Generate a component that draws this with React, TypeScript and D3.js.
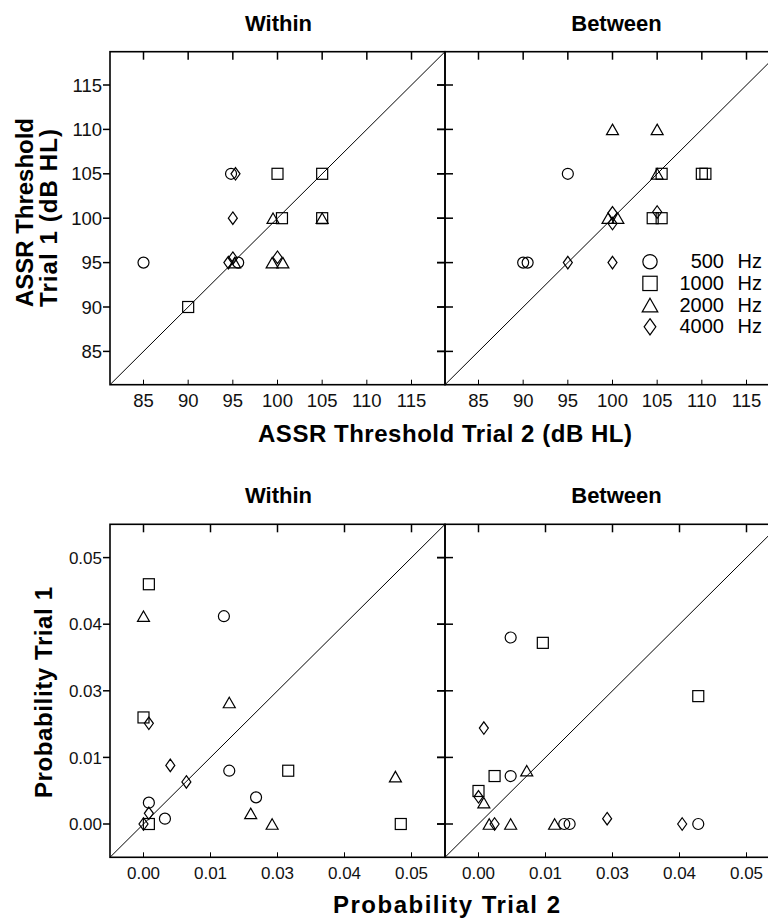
import React from "react";
import * as d3 from "d3";

// tick values / labels
const thrTicks = [85, 90, 95, 100, 105, 110, 115];
const thrTickLabels = ["85", "90", "95", "100", "105", "110", "115"];
const probTicks = [0, 0.0125, 0.025, 0.0375, 0.05];
const probTickLabels = ["0.00", "0.01", "0.03", "0.04", "0.05"];

const freqLabels = ["500", "1000", "2000", "4000"];
const shapes = ["circle", "square", "triangle", "diamond"];

// ASSR thresholds, [trial 2, trial 1]
const withinThr500 = [[85, 95], [94.8, 105], [95.6, 95]];
const withinThr1000 = [[90, 90], [100, 105], [105, 105], [100.5, 100], [105, 100]];
const withinThr2000 = [[99.5, 100], [105, 100], [95.2, 95], [99.4, 95], [100.6, 95]];
const withinThr4000 = [[95.3, 105], [95, 100], [94.5, 95], [95, 95.5], [100, 95.6]];

const betweenThr500 = [[95, 105], [90, 95], [90.5, 95]];
const betweenThr1000 = [[105.5, 105], [110, 105], [110.4, 105], [104.5, 100], [105.5, 100]];
const betweenThr2000 = [[100, 110], [105, 110], [105, 105], [99.5, 100], [100.6, 100]];
const betweenThr4000 = [[100, 100.6], [100, 99.4], [105, 100.7], [95, 95], [100, 95]];

// probabilities, [trial 2, trial 1]
const withinP500 = [[0.015, 0.039], [0.016, 0.01], [0.021, 0.005], [0.001, 0.004], [0.004, 0.001]];
const withinP1000 = [[0.001, 0.045], [0.0, 0.02], [0.027, 0.01], [0.001, 0.0], [0.048, 0.0]];
const withinP2000 = [[0.0, 0.039], [0.016, 0.0228], [0.047, 0.0089], [0.02, 0.002], [0.024, 0.0]];
const withinP4000 = [[0.001, 0.0189], [0.005, 0.011], [0.008, 0.0079], [0.001, 0.002], [0.0, 0.0]];

const betweenP500 = [[0.006, 0.035], [0.006, 0.009], [0.016, 0.0], [0.017, 0.0], [0.041, 0.0]];
const betweenP1000 = [[0.012, 0.034], [0.041, 0.024], [0.003, 0.009], [0.0, 0.0062]];
const betweenP2000 = [[0.009, 0.01], [0.001, 0.004], [0.002, 0.0], [0.006, 0.0], [0.0142, 0.0]];
const betweenP4000 = [[0.001, 0.018], [0.0, 0.0051], [0.003, 0.0], [0.024, 0.001], [0.038, 0.0]];

const W = 335;
const H = 333;
const FONT = "'Liberation Sans', Arial, sans-serif";

function Marker({ shape, x, y, big }: any) {
  const k = big ? 1.3 : 1;
  const common = { fill: "none", stroke: "#000", strokeWidth: 1.2 };
  if (shape === "circle") return <circle cx={x} cy={y} r={5.5 * k} {...common} />;
  if (shape === "square") {
    const s = 11 * k;
    return <rect x={x - s / 2} y={y - s / 2} width={s} height={s} {...common} />;
  }
  if (shape === "triangle") {
    const w = 12 * k, h = 10.5 * k;
    return <path d={`M${x},${y - h / 2}L${x + w / 2},${y + h / 2}L${x - w / 2},${y + h / 2}Z`} {...common} />;
  }
  const w = 9 * k, h = 12.5 * k;
  return <path d={`M${x},${y - h / 2}L${x + w / 2},${y}L${x},${y + h / 2}L${x - w / 2},${y}Z`} {...common} />;
}

function Panel({ x0, y0, domain, ticks, tickLabels, series, title, yLabels, titleDx, fontSize, labelGap }: any) {
  const x = d3.scaleLinear().domain(domain).range([x0, x0 + W]);
  const y = d3.scaleLinear().domain(domain).range([y0 + H, y0]);
  const diag = d3.line()([[x(domain[0]), y(domain[0])], [x(domain[1]), y(domain[1])]]);
  return (
    <g>
      <text x={x0 + W / 2 + titleDx} y={y0 - 21} textAnchor="middle" fontFamily={FONT} fontWeight="bold" fontSize={22}>
        {title}
      </text>
      <rect x={x0} y={y0} width={W} height={H} fill="none" stroke="#000" strokeWidth={1.6} />
      <path d={diag!} stroke="#000" strokeWidth={1} fill="none" />
      {ticks.map((t: number, i: number) => (
        <g key={"t" + i}>
          <line x1={x(t)} x2={x(t)} y1={y0} y2={y0 + 8} stroke="#000" strokeWidth={1.5} />
          <line x1={x(t)} x2={x(t)} y1={y0 + H} y2={y0 + H - 5} stroke="#000" strokeWidth={1} />
          <line x1={x0 - (yLabels ? 7 : 8)} x2={x0 + (yLabels ? 0 : 8)} y1={y(t)} y2={y(t)} stroke="#000" strokeWidth={1.5} />
          <line x1={x0 + W - 8} x2={x0 + W} y1={y(t)} y2={y(t)} stroke="#000" strokeWidth={1.5} />
          <text x={x(t)} y={y0 + H + labelGap} textAnchor="middle" fontFamily={FONT} fontSize={fontSize} fill="#111">
            {tickLabels[i]}
          </text>
          {yLabels && (
            <text x={x0 - 8} y={y(t)} dy="0.36em" textAnchor="end" fontFamily={FONT} fontSize={fontSize} fill="#111">
              {tickLabels[i]}
            </text>
          )}
        </g>
      ))}
      {series.map((pts: number[][], si: number) =>
        pts.map((p, pi) => <Marker key={si + "-" + pi} shape={shapes[si]} x={x(p[0])} y={y(p[1])} />)
      )}
    </g>
  );
}

export default function App() {
  const thrDomain = [81.25, 118.75];
  const probDomain = [-0.00625, 0.05625];
  const legendY = [261.7, 283.4, 305.1, 326.8];
  return (
    <svg width={768} height={921} style={{ position: "absolute", left: 0, top: 0, background: "#fff" }}>
      <Panel x0={110} y0={51.7} domain={thrDomain} ticks={thrTicks} tickLabels={thrTickLabels}
        series={[withinThr500, withinThr1000, withinThr2000, withinThr4000]} title="Within" yLabels titleDx={1} fontSize={18.5} labelGap={22} />
      <Panel x0={445} y0={51.7} domain={thrDomain} ticks={thrTicks} tickLabels={thrTickLabels}
        series={[betweenThr500, betweenThr1000, betweenThr2000, betweenThr4000]} title="Between" yLabels={false} titleDx={4} fontSize={18.5} labelGap={22} />
      <Panel x0={110} y0={524.3} domain={probDomain} ticks={probTicks} tickLabels={probTickLabels}
        series={[withinP500, withinP1000, withinP2000, withinP4000]} title="Within" yLabels titleDx={1} fontSize={17} labelGap={22} />
      <Panel x0={445} y0={524.3} domain={probDomain} ticks={probTicks} tickLabels={probTickLabels}
        series={[betweenP500, betweenP1000, betweenP2000, betweenP4000]} title="Between" yLabels={false} titleDx={4} fontSize={17} labelGap={22} />

      {/* legend */}
      {freqLabels.map((f, i) => (
        <g key={f}>
          <Marker shape={shapes[i]} x={650} y={legendY[i]} big />
          <text x={724} y={legendY[i] + 6.5} textAnchor="end" fontFamily={FONT} fontSize={20}>{f}</text>
          <text x={762} y={legendY[i] + 6.5} textAnchor="end" fontFamily={FONT} fontSize={20}>Hz</text>
        </g>
      ))}

      {/* axis titles */}
      <text transform="translate(33,307) rotate(-90)" fontFamily={FONT} fontWeight="bold" fontSize={24} textLength={189} lengthAdjust="spacing">
        ASSR Threshold
      </text>
      <text transform="translate(57,307) rotate(-90)" fontFamily={FONT} fontWeight="bold" fontSize={24} textLength={178} lengthAdjust="spacing">
        Trial 1 (dB HL)
      </text>
      <text x={445} y={442} textAnchor="middle" fontFamily={FONT} fontWeight="bold" fontSize={24} textLength={374} lengthAdjust="spacing">
        ASSR Threshold Trial 2 (dB HL)
      </text>
      <text transform="translate(52,692.5) rotate(-90)" textAnchor="middle" fontFamily={FONT} fontWeight="bold" fontSize={24} textLength={211} lengthAdjust="spacing">
        Probability Trial 1
      </text>
      <text x={446.5} y={913} textAnchor="middle" fontFamily={FONT} fontWeight="bold" fontSize={24} textLength={227} lengthAdjust="spacing">
        Probability Trial 2
      </text>
    </svg>
  );
}
